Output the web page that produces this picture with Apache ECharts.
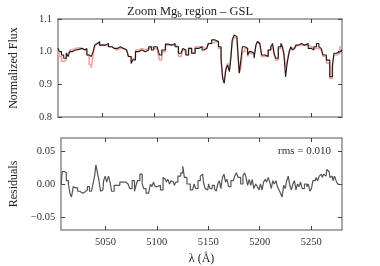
<!DOCTYPE html>
<html><head><meta charset="utf-8">
<script src="https://cdn.jsdelivr.net/npm/echarts@6/dist/echarts.min.js"></script>
<style>html,body{margin:0;padding:0;background:#fff}#c{width:380px;height:266px}</style>
</head><body><div id="c"></div>
<script>
var wave = [5007,5009.6,5011,5014,5016,5017.5,5019,5022,5025.5,5029,5032,5033.5,5036,5038,5040,5041.5,5043,5045,5046,5048,5051,5054,5057,5061,5064,5067,5070,5073,5076.5,5078,5080,5083,5086,5089,5092.5,5096,5097.5,5100.5,5104,5105,5108.5,5112,5115,5118,5121,5124.5,5126,5128,5129,5131,5134,5137,5140.5,5144,5147,5148.5,5150,5153,5156.5,5159.5,5163,5164.5,5166,5167.5,5169,5171,5172.5,5173.5,5175.5,5177,5179,5180.5,5182,5183.5,5185,5188.5,5190,5191.5,5194.5,5196.5,5198,5199.5,5201,5204.5,5207.5,5210.5,5212.5,5214,5215.5,5217,5220.5,5222,5223.5,5225,5226.5,5228.5,5230,5231.5,5233,5234.5,5236.5,5239.5,5242.5,5246,5249,5252,5254,5257,5258.5,5260,5263.5,5266.5,5270,5271.5,5273,5276,5280];
var flux = [1.010,1.000,0.990,0.980,0.995,0.985,1.000,1.005,1.007,1.010,1.005,1.010,0.990,0.985,0.980,1.000,1.020,1.025,1.031,1.020,1.020,1.025,1.015,1.010,1.010,1.015,1.010,1.005,0.985,0.964,0.975,1.000,1.005,1.000,1.005,1.015,1.005,1.015,1.015,0.990,1.005,1.023,1.020,1.025,1.015,0.995,0.990,1.010,1.005,0.990,1.010,0.995,1.010,1.015,1.005,1.000,1.010,1.025,1.036,1.031,1.015,0.980,0.918,0.903,0.944,0.959,0.939,0.974,1.036,1.051,1.046,1.005,0.934,0.974,1.015,1.010,0.990,1.000,0.995,0.980,1.020,1.031,1.025,0.990,0.985,1.005,1.015,1.025,0.995,0.980,1.015,1.025,1.015,0.990,0.923,0.969,1.000,1.015,1.005,1.010,1.020,1.025,1.020,1.025,1.010,1.005,1.015,1.025,1.015,1.010,0.990,0.974,0.923,0.954,0.995,1.000,1.005];
var model = [1.005,0.985,0.970,0.975,0.995,0.995,1.005,1.010,1.012,1.010,1.005,1.005,0.990,0.960,0.950,0.990,1.015,1.025,1.025,1.020,1.020,1.020,1.015,1.010,1.005,1.010,1.010,1.005,0.985,0.970,0.980,1.005,1.010,1.005,1.010,1.015,1.010,1.010,1.010,0.975,1.000,1.020,1.020,1.020,1.015,0.985,0.980,1.005,1.005,0.990,1.010,0.995,1.015,1.015,1.010,1.005,1.010,1.025,1.030,1.030,1.010,0.970,0.925,0.910,0.945,0.965,0.945,0.985,1.030,1.045,1.040,1.000,0.935,0.950,1.000,1.010,0.985,0.995,0.990,0.985,1.020,1.030,1.025,0.985,0.985,1.005,1.010,1.020,0.990,0.975,1.010,1.025,1.015,0.990,0.950,0.975,1.000,1.010,1.010,1.015,1.020,1.020,1.020,1.020,1.015,1.010,1.010,1.010,1.010,1.005,0.985,0.965,0.918,0.960,0.990,0.995,1.015];
var residWave = [5007,5009,5011,5013,5015,5016,5018,5019.5,5021,5025,5028,5030,5031.5,5033.5,5035.5,5037.5,5039,5040,5041.5,5043,5044.5,5046,5047.5,5049,5050.5,5052,5054,5055,5057,5060,5063,5065,5068,5071,5073,5074.5,5077.5,5079,5080.5,5082,5085,5086.5,5088,5091,5093,5094.5,5096,5097.5,5099,5102,5105,5107,5108.5,5110,5111.5,5113,5114.5,5116,5118,5119,5122,5124.5,5126,5127.5,5131,5134,5135.5,5137,5138.5,5141.5,5143,5144.5,5146,5148,5149.5,5151,5152.5,5155,5157,5158.5,5160,5161.5,5163,5164.5,5166,5167.5,5169,5170.5,5173.5,5175,5176.5,5178,5180,5183,5184.5,5186,5187.5,5189,5190.5,5192,5193.5,5195,5197,5198.5,5200,5201.5,5203,5204.5,5206,5207.5,5209,5210.5,5212,5213.5,5215,5216.5,5218,5219.5,5221,5222.5,5224,5225.5,5227,5228.5,5230,5231.5,5233,5234.5,5236,5237.5,5239,5240.5,5242,5245,5246.5,5248,5249.5,5251,5252.5,5254,5255.5,5257,5258.5,5260,5261.5,5263,5264.5,5266,5267.5,5269,5270.5,5272,5273.5,5275,5276.5,5278,5280];
var resid = [0.000,0.019,0.017,0.005,0.000,-0.014,-0.020,-0.004,-0.006,-0.011,-0.014,-0.012,-0.009,-0.004,-0.011,-0.014,0.003,0.012,0.029,0.017,0.005,-0.011,-0.009,0.005,0.012,0.003,0.012,0.003,-0.011,-0.002,-0.002,0.003,0.003,0.000,-0.002,-0.007,0.005,-0.011,-0.002,0.005,0.015,0.000,-0.007,-0.014,-0.011,0.000,-0.004,0.003,-0.004,-0.002,-0.009,0.010,0.007,0.003,0.007,0.000,0.005,0.003,-0.002,0.003,0.012,0.017,0.027,0.010,0.000,-0.009,-0.011,0.000,-0.007,0.005,0.012,0.015,0.003,-0.007,-0.009,0.000,-0.007,-0.002,-0.007,-0.011,0.000,0.005,-0.007,0.010,0.015,0.003,0.007,-0.004,0.005,0.007,0.012,0.017,0.010,0.000,0.012,0.017,0.010,-0.002,0.007,-0.002,0.007,-0.007,0.000,-0.004,-0.009,0.000,-0.009,0.003,0.007,0.003,0.010,0.003,-0.007,0.005,0.000,0.005,-0.004,-0.009,-0.014,-0.020,-0.002,-0.007,0.005,0.012,-0.002,-0.009,0.000,0.005,-0.009,0.000,-0.004,0.003,-0.007,0.000,-0.004,0.000,-0.011,-0.007,0.005,0.005,0.010,0.005,0.012,0.015,0.010,0.015,0.012,0.022,0.019,0.010,0.012,0.005,0.012,0.005,0.000];
var xTicks = [5050,5100,5150,5200,5250];
var fluxTicks = [0.8,0.9,1.0,1.1];
var residTicks = [-0.05,0.00,0.05];

function pairs(xs, ys){ return xs.map(function(x,i){ return [x, ys[i]]; }); }

var FONT = 'Liberation Serif';
var frame = '#8c8c8c';
function xAx(grid, pos, showLabels, name){
  return {type:'value', gridIndex:grid, position:pos, min:5007, max:5280,
    axisLine:{show:true, onZero:false, lineStyle:{color:frame, width:1.5}},
    axisTick:{show:true, inside:true, length:4, customValues:xTicks, lineStyle:{color:'#444', width:1}},
    axisLabel:{show:showLabels, customValues:xTicks, margin:7, fontFamily:FONT, fontSize:10.5, color:'#333',
      formatter:function(v){ return String(v); }},
    splitLine:{show:false},
    name: name || '', nameLocation:'middle', nameGap:23,
    nameTextStyle:{fontFamily:FONT, fontSize:12, color:'#222'}};
}
function yAx(grid, pos, min, max, ticks, showLabels, dec, name, gap){
  return {type:'value', gridIndex:grid, position:pos, min:min, max:max,
    axisLine:{show:true, onZero:false, lineStyle:{color:frame, width:1.5}},
    axisTick:{show:true, inside:true, length:4, customValues:ticks, lineStyle:{color:'#444', width:1}},
    axisLabel:{show:showLabels, customValues:ticks, margin:6, fontFamily:FONT, fontSize:10.5, color:'#333',
      formatter:function(v){ var s = Math.abs(v).toFixed(dec); return (v < -1e-9 ? '\u2212' : '') + s; }},
    splitLine:{show:false},
    name: name || '', nameLocation:'middle', nameGap:gap || 30,
    nameTextStyle:{fontFamily:FONT, fontSize:12, color:'#222'}};
}

var chart = echarts.init(document.getElementById('c'), null, {renderer:'canvas'});
chart.setOption({
  animation:false,
  title:{text:'Zoom Mg{sub|b} region \u2013 GSL', left:'center', top:0,
    textStyle:{fontFamily:FONT, fontSize:12.5, fontWeight:'normal', color:'#222',
      rich:{sub:{fontFamily:FONT, fontSize:9, verticalAlign:'bottom', padding:[5,0,0,0], color:'#222'}}}},
  grid:[{left:57, right:38, top:19, height:98},{left:57, right:38, top:138, height:98}],
  xAxis:[xAx(0,'bottom',false), xAx(0,'top',false), xAx(1,'bottom',true,'\u03bb (\u00c5)'), xAx(1,'top',false)],
  yAxis:[yAx(0,'left',0.8,1.1,fluxTicks,true,1,'Normalized Flux',38), yAx(0,'right',0.8,1.1,fluxTicks,false,1),
         yAx(1,'left',-0.07,0.07,residTicks,true,2,'Residuals',38), yAx(1,'right',-0.07,0.07,residTicks,false,2)],
  series:[
    {type:'line', xAxisIndex:0, yAxisIndex:0, data:pairs(wave, model), step:'middle', showSymbol:false,
      lineStyle:{color:'#f4a49c', width:1.6}, z:2},
    {type:'line', xAxisIndex:0, yAxisIndex:0, data:pairs(wave, flux), step:'middle', showSymbol:false,
      lineStyle:{color:'#1a1a1a', width:1.1}, z:3},
    {type:'line', xAxisIndex:2, yAxisIndex:2, data:pairs(residWave, resid), step:'middle', showSymbol:false,
      lineStyle:{color:'#555', width:1.2}, z:3}
  ],
  graphic:[{type:'text', right:49, top:146, style:{text:'rms = 0.010', fontFamily:FONT, fontSize:11, fill:'#333'}}]
});
</script></body></html>
